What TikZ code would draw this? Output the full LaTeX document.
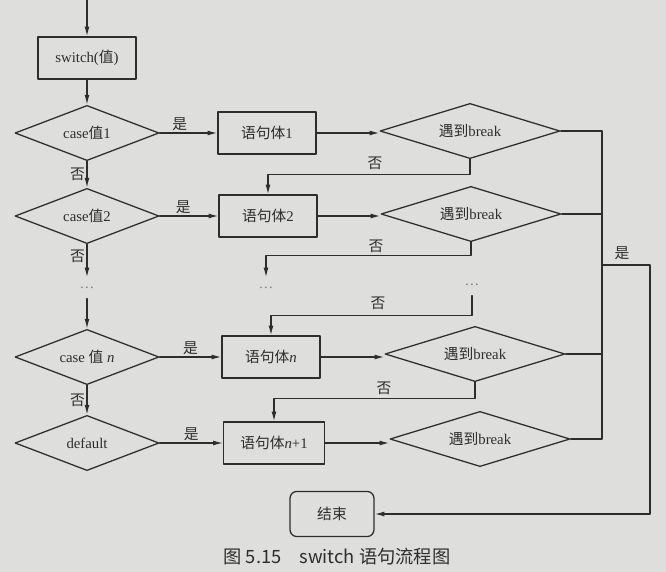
\documentclass[tikz,border=0pt]{standalone}
\usepackage{fontspec}
\setmainfont{Liberation Serif}
\newfontfamily\cjk{Noto Sans CJK SC}
\usetikzlibrary{shapes.geometric,arrows.meta}
\definecolor{paper}{RGB}{222,222,220}
\definecolor{ink}{RGB}{45,45,45}
\newcommand{\zw}[1]{{\cjk #1}}

\begin{document}
\begin{tikzpicture}[x=0.025cm,y=-0.025cm,line cap=round,line join=round,color=ink,line width=0.9pt,
    every node/.style={font=\fontsize{10.5}{12}\selectfont},
    box/.style={draw,rectangle,minimum width=2.45cm,minimum height=1.05cm,inner sep=0pt},
    dia/.style={draw,diamond,aspect=2.6,minimum width=3.6cm,minimum height=1.38cm,inner sep=0pt},
    brk/.style={draw,diamond,aspect=3.3,minimum width=4.5cm,minimum height=1.38cm,inner sep=0pt},
    endbox/.style={draw,rectangle,rounded corners=5pt,minimum width=2.1cm,minimum height=1.13cm},
    dots/.style={inner sep=0pt,minimum height=0.5cm,text=gray},
    lbl/.style={inner sep=1pt},
    arr/.style={-{Latex[length=7pt,width=3.5pt]}}]
    \fill[paper] (0,0) rectangle (666,572);
    \useasboundingbox (0,0) rectangle (666,572);
    % left column
    \coordinate (top) at (87,0);
    \node[box] (sw) at (87,58) {switch(\zw{值})};
    \node[dia] (c1) at (87,133) {case\zw{值}1};
    \node[dia] (c2) at (87,216) {case\zw{值}2};
    \node[dots] (dl) at (87,288) {\dots};
    \node[dia] (cn) at (87,357) {case \zw{值} \textit{n}};
    \node[dia] (cd) at (87,443) {default};
    % statement boxes
    \node[box] (s1) at (267,133) {\zw{语句体}1};
    \node[box] (s2) at (268,216) {\zw{语句体}2};
    \node[dots] (dm) at (266,288) {\dots};
    \node[box] (sn) at (271,357) {\zw{语句体}\textit{n}};
    \node[box,minimum width=2.52cm] (sd) at (274,443) {\zw{语句体}\textit{n}+1};
    % break tests
    \node[brk] (b1) at (470,131) {\zw{遇到}break};
    \node[brk] (b2) at (471,214) {\zw{遇到}break};
    \node[dots] (dr) at (472,285) {\dots};
    \node[brk] (bn) at (475,354) {\zw{遇到}break};
    \node[brk] (bd) at (480,439) {\zw{遇到}break};
    \node[endbox] (end) at (332,514) {\zw{结束}};
    % arrows down the left
    \draw[arr] (top) -- (sw.north);
    \draw[arr] (sw.south) -- (c1.north);
    \draw[arr] (c1.south) -- node[lbl,left] (n1) {\zw{否}} (c2.north);
    \draw[arr] (c2.south) -- node[lbl,left,pos=0.35] (n2) {\zw{否}} (dl.north);
    \draw[arr] (dl.south) -- (cn.north);
    \draw[arr] (cn.south) -- node[lbl,left] (n3) {\zw{否}} (cd.north);
    % yes branches
    \draw[arr] (c1.east) -- node[lbl,above,pos=0.35] (y1) {\zw{是}} (s1.west);
    \draw[arr] (c2.east) -- node[lbl,above,pos=0.4] (y2) {\zw{是}} (s2.west);
    \draw[arr] (cn.east) -- node[lbl,above,pos=0.5] (y3) {\zw{是}} (sn.west);
    \draw[arr] (cd.east) -- node[lbl,above,pos=0.5] (y4) {\zw{是}} (sd.west);
    \draw[arr] (s1.east) -- (s1.east -| b1.west);
    \draw[arr] (s2.east) -- (s2.east -| b2.west);
    \draw[arr] (sn.east) -- (sn.east -| bn.west);
    \draw[arr] (sd.east) -- (sd.east -| bd.west);
    % fall through
    \draw[arr] (b1.south) -- ++(0,15) -| (s2.north);
    \draw[arr] (b2.south) -- ++(0,13) -| (dm.north);
    \draw[arr] (dr.south) -- ++(0,20) -| (sn.north);
    \draw[arr] (bn.south) -- ++(0,16) -| (sd.north);
    \node[lbl] (f1) at (375,163) {\zw{否}};
    \node[lbl] (f2) at (376,246) {\zw{否}};
    \node[lbl] (f3) at (378,303) {\zw{否}};
    \node[lbl] (f4) at (384,388) {\zw{否}};
    % break exit
    \coordinate (jn) at (602,265);
    \coordinate (jo) at (650,265);
    \draw (b1.east) -- (b1.east -| jn) -- (bd.east -| jn) -- (bd.east);
    \draw (b2.east) -- (b2.east -| jn);
    \draw (bn.east) -- (bn.east -| jn);
    \draw[arr] (jn) -- (jo) |- (end.east);
    \node[lbl] (y5) at (622,253) {\zw{是}};
    % caption
    \node (cap) at (337,557) {\cjk\fontsize{13}{15}\selectfont 图 5.15\quad switch 语句流程图};
\end{tikzpicture}
\end{document}
